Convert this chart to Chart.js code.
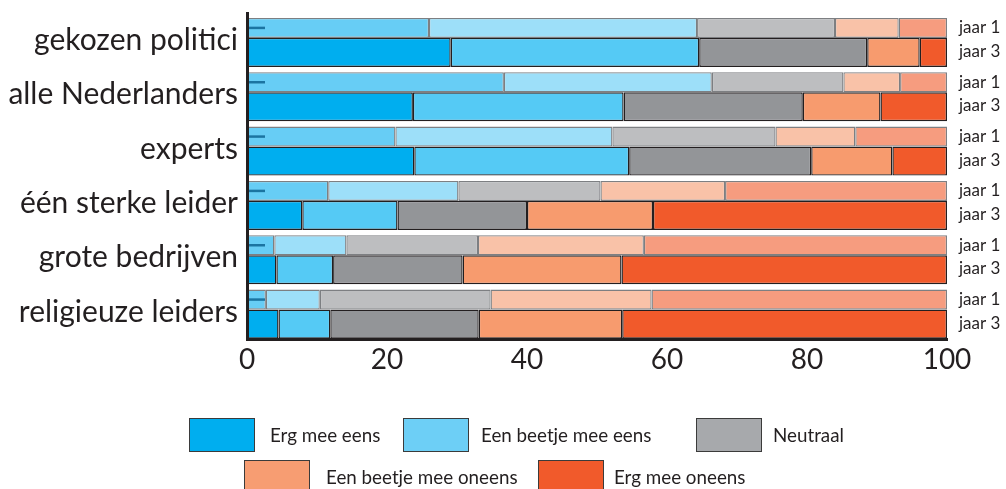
<!DOCTYPE html>
<html>
<head>
<meta charset="utf-8">
<script src="https://cdn.jsdelivr.net/npm/chart.js@4"></script>
<style>
  body { margin: 0; background: #fff; }
  #wrap { position: relative; width: 1006px; height: 489px; overflow: hidden; font-family: Lato, sans-serif; color: #231f20; }
  #chart { position: absolute; left: 0; top: 0; }
  .box { position: absolute; width: 66px; height: 34px; box-sizing: border-box; border: 1.5px solid #3b3b3b; }
  .txt { position: absolute; height: 34px; line-height: 34px; font-size: 18.8px; white-space: nowrap; }
</style>
</head>
<body>
<div id="wrap">
  <canvas id="chart" width="1006" height="489"></canvas>
  <div id="legend"></div>
</div>
<script>
const categories = ['gekozen politici', 'alle Nederlanders', 'experts', 'één sterke leider', 'grote bedrijven', 'religieuze leiders'];
const answers = ['Erg mee eens', 'Een beetje mee eens', 'Neutraal', 'Een beetje mee oneens', 'Erg mee oneens'];

// jaar 1 (percentages per category)
const ergEens1      = [26.0, 36.7, 21.2, 11.6, 3.9, 2.7];
const beetjeEens1   = [38.3, 29.7, 31.0, 18.6, 10.3, 7.7];
const neutraal1     = [19.7, 18.8, 23.3, 20.3, 18.8, 24.4];
const beetjeOneens1 = [9.1, 8.1, 11.4, 17.8, 23.7, 23.0];
const ergOneens1    = [6.9, 6.7, 13.1, 31.7, 43.3, 42.2];

// jaar 3
const ergEens3      = [29.1, 23.7, 23.9, 7.9, 4.2, 4.5];
const beetjeEens3   = [35.5, 30.1, 30.7, 13.6, 8.1, 7.4];
const neutraal3     = [24.0, 25.6, 26.0, 18.5, 18.5, 21.2];
const beetjeOneens3 = [7.5, 11.1, 11.6, 18.0, 22.7, 20.5];
const ergOneens3    = [3.9, 9.5, 7.8, 42.0, 46.5, 46.4];

const xTicks = [0, 20, 40, 60, 80, 100];

const colors1 = ['#67cdf5', '#9ddff9', '#bdbec0', '#f9c2a8', '#f69c7f'];
const colors3 = ['#00aeef', '#55caf5', '#939598', '#f79b6e', '#f15a2b'];
const legendColors = ['#00aeef', '#6dcff6', '#a7a9ac', '#f79d72', '#f15a2b'];

const jaar1 = [ergEens1, beetjeEens1, neutraal1, beetjeOneens1, ergOneens1];
const jaar3 = [ergEens3, beetjeEens3, neutraal3, beetjeOneens3, ergOneens3];

const datasets = [];
answers.forEach((a, k) => {
  datasets.push({
    label: a + ' (jaar 1)', data: jaar1[k], stack: 'j1',
    backgroundColor: colors1[k], borderColor: '#7d7f82', borderWidth: 1.3,
    borderSkipped: false, barPercentage: 0.816
  });
});
answers.forEach((a, k) => {
  datasets.push({
    label: a, data: jaar3[k], stack: 'j3',
    backgroundColor: colors3[k], borderColor: '#231f20', borderWidth: 1.4,
    borderSkipped: false, barPercentage: 1.184
  });
});

// "jaar 1 / jaar 3" labels right of each bar, plus the little dash in the jaar 1 bars
const sideLabels = {
  id: 'sideLabels',
  afterDatasetsDraw(chart) {
    const ctx = chart.ctx;
    const first1 = chart.getDatasetMeta(0);
    const last1 = chart.getDatasetMeta(4);
    const last3 = chart.getDatasetMeta(9);
    const x = chart.chartArea.right + 12;
    ctx.save();
    ctx.font = '17px Lato';
    ctx.fillStyle = '#231f20';
    ctx.textBaseline = 'middle';
    categories.forEach((c, i) => {
      ctx.fillText('jaar 1', x, last1.data[i].y);
      ctx.fillText('jaar 3', x, last3.data[i].y - 1);
      const el = first1.data[i];
      ctx.strokeStyle = '#1b74a1';
      ctx.lineWidth = 2.5;
      ctx.beginPath();
      ctx.moveTo(el.base + 2, el.y);
      ctx.lineTo(el.base + 18, el.y);
      ctx.stroke();
    });
    ctx.restore();
  }
};

new Chart(document.getElementById('chart'), {
  type: 'bar',
  data: { labels: categories, datasets: datasets },
  options: {
    indexAxis: 'y',
    responsive: false,
    animation: false,
    devicePixelRatio: 1,
    categoryPercentage: 0.902,
    layout: { padding: { left: 0, right: 59, top: 13, bottom: 110 } },
    plugins: { legend: { display: false }, tooltip: { enabled: false } },
    scales: {
      x: {
        stacked: true, min: 0, max: 100,
        afterBuildTicks(scale) { scale.ticks = xTicks.map(v => ({ value: v })); },
        afterFit(scale) { scale.height = 40; scale.paddingLeft = 0; scale.paddingRight = 0; },
        grid: { display: false, drawTicks: false },
        border: { display: true, color: '#231f20', width: 3, z: 1 },
        ticks: { color: '#231f20', font: { family: 'Lato', size: 28 }, padding: 4 }
      },
      y: {
        stacked: true,
        afterFit(scale) { scale.width = 247; scale.paddingTop = 0; scale.paddingBottom = 0; },
        grid: { display: false, drawTicks: false },
        border: { display: true, color: '#231f20', width: 3, z: 1 },
        ticks: { color: '#231f20', font: { family: 'Lato', size: 30 }, padding: 9 }
      }
    }
  },
  plugins: [sideLabels]
});

// legend, placed as in the original figure
const legendPos = [[189, 418, 270], [403, 418, 481], [696, 418, 773], [244, 460, 326], [538, 460, 614]];
const legend = document.getElementById('legend');
answers.forEach((a, k) => {
  const [bx, by, tx] = legendPos[k];
  const b = document.createElement('div');
  b.className = 'box';
  b.style.left = bx + 'px'; b.style.top = by + 'px'; b.style.background = legendColors[k];
  const t = document.createElement('div');
  t.className = 'txt';
  t.style.left = tx + 'px'; t.style.top = by + 'px';
  t.textContent = a;
  legend.appendChild(b);
  legend.appendChild(t);
});
</script>
</body>
</html>
